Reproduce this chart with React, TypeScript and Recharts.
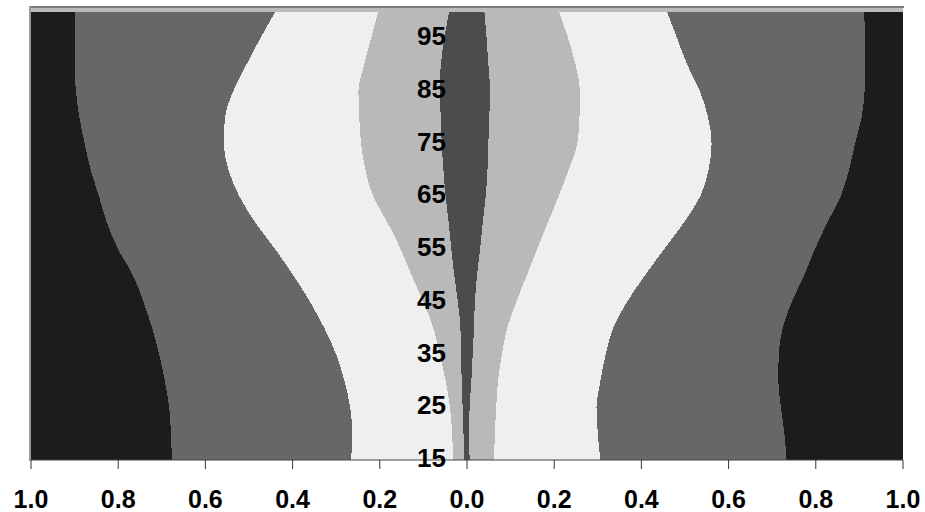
import { ComposedChart, Area, XAxis, YAxis } from 'recharts';

// age grid (rows of the chart, bottom to top)
const ages = [15, 20, 25, 30, 35, 40, 45, 50, 55, 60, 65, 70, 75, 80, 85, 90, 95, 100];

// band boundaries, left side (negative) to right side (positive)
const leftOuter = [-0.677, -0.679, -0.683, -0.693, -0.706, -0.722, -0.742, -0.766, -0.8, -0.826, -0.844, -0.863, -0.877, -0.889, -0.897, -0.9, -0.9, -0.898];
const leftMid = [-0.266, -0.263, -0.268, -0.281, -0.3, -0.327, -0.36, -0.398, -0.44, -0.485, -0.522, -0.547, -0.558, -0.555, -0.536, -0.506, -0.474, -0.44];
const leftInner = [-0.032, -0.034, -0.039, -0.049, -0.062, -0.077, -0.1, -0.127, -0.152, -0.182, -0.215, -0.233, -0.243, -0.247, -0.249, -0.236, -0.22, -0.204];
const leftCore = [-0.007, -0.008, -0.01, -0.012, -0.014, -0.015, -0.021, -0.029, -0.036, -0.042, -0.049, -0.054, -0.058, -0.06, -0.063, -0.06, -0.052, -0.041];
const rightCore = [0.006, 0.005, 0.006, 0.01, 0.013, 0.016, 0.018, 0.023, 0.03, 0.036, 0.043, 0.047, 0.049, 0.051, 0.053, 0.049, 0.045, 0.04];
const rightInner = [0.062, 0.064, 0.067, 0.071, 0.08, 0.092, 0.113, 0.137, 0.161, 0.185, 0.21, 0.233, 0.253, 0.258, 0.259, 0.249, 0.232, 0.211];
const rightMid = [0.306, 0.3, 0.297, 0.306, 0.318, 0.335, 0.367, 0.408, 0.452, 0.497, 0.535, 0.554, 0.561, 0.553, 0.534, 0.505, 0.482, 0.459];
const rightOuter = [0.733, 0.728, 0.72, 0.714, 0.715, 0.724, 0.745, 0.773, 0.798, 0.826, 0.857, 0.876, 0.89, 0.905, 0.912, 0.914, 0.913, 0.911];

const xTicks = [-1, -0.8, -0.6, -0.4, -0.2, 0, 0.2, 0.4, 0.6, 0.8, 1];
const ageTicks = [15, 25, 35, 45, 55, 65, 75, 85, 95];

const edgeLeft = ages.map(() => -1);
const edgeRight = ages.map(() => 1);
const edges = [edgeLeft, leftOuter, leftMid, leftInner, leftCore, rightCore, rightInner, rightMid, rightOuter, edgeRight];

const fills = ['#1c1c1c', '#676767', '#efefef', '#b9b9b9', '#4c4c4c', '#b9b9b9', '#efefef', '#676767', '#1c1c1c'];

const rows = ages.map((age, i) => {
  const row: Record<string, any> = { age };
  fills.forEach((_, b) => {
    row[`band${b}`] = [edges[b][i], edges[b + 1][i]];
  });
  return row;
});

const font = '"Liberation Sans", Arial, sans-serif';

function ShareTick({ x, y, payload }: any) {
  return (
    <text x={x} y={y + 37} textAnchor="middle" fontFamily={font} fontWeight="bold" fontSize={25} fill="#000">
      {Math.abs(payload.value).toFixed(1)}
    </text>
  );
}

function AgeTick({ y, payload }: any) {
  return (
    <text x={446} y={y + 7} textAnchor="end" fontFamily={font} fontWeight="bold" fontSize={26} fill="#000">
      {payload.value}
    </text>
  );
}

export default function App() {
  return (
    <div style={{ position: 'relative', width: 925, height: 512 }}>
      <style>{'body{margin:0}'}</style>
      <div style={{ position: 'absolute', left: 29, top: 6, width: 875, height: 2, background: '#7a7a7a' }} />
      <div style={{ position: 'absolute', left: 31, top: 8, width: 872, height: 4, background: '#bbbbbb' }} />
      <div style={{ position: 'absolute', left: 29, top: 6, width: 2, height: 455, background: '#999999' }} />
      <ComposedChart
        width={925}
        height={512}
        layout="vertical"
        data={rows}
        margin={{ top: 11, right: 22, bottom: 0, left: 30 }}
      >
        <XAxis
          type="number"
          domain={[-1, 1]}
          ticks={xTicks}
          allowDataOverflow
          height={52}
          tickSize={9}
          axisLine={{ stroke: '#444' }}
          tickLine={{ stroke: '#333' }}
          tick={<ShareTick />}
        />
        <XAxis
          xAxisId="top"
          orientation="top"
          type="number"
          domain={[-1, 1]}
          ticks={xTicks}
          height={1}
          tickSize={4}
          axisLine={false}
          tickLine={{ stroke: '#222' }}
          tick={false}
        />
        {fills.map((fill, b) => (
          <Area
            key={b}
            dataKey={`band${b}`}
            type="monotone"
            fill={fill}
            fillOpacity={1}
            stroke="none"
            dot={false}
            activeDot={false}
            shapeRendering="crispEdges"
            isAnimationActive={false}
          />
        ))}
        <YAxis
          type="number"
          dataKey="age"
          domain={[15, 100]}
          ticks={ageTicks}
          reversed
          allowDataOverflow
          width={1}
          axisLine={false}
          tickLine={false}
          tick={<AgeTick />}
        />
      </ComposedChart>
    </div>
  );
}
